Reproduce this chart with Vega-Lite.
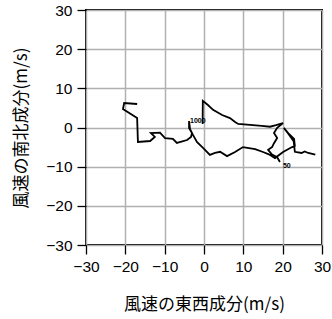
{
  "$schema": "https://vega.github.io/schema/vega-lite/v6.json",
  "width": 236,
  "height": 235,
  "autosize": {"type": "none"},
  "padding": {"left": 86, "top": 10, "right": 10, "bottom": 74},
  "background": "white",
  "config": {
    "view": {"stroke": "black", "strokeWidth": 2},
    "font": "Liberation Sans",
    "text": {"fill": "black", "color": "black"}
  },
  "datasets": {
    "path": [
      {"s": "A", "i": 1, "u": -0.35, "v": 0.9},
      {"s": "A", "i": 2, "u": -0.3, "v": 6.8},
      {"s": "A", "i": 3, "u": 1.0, "v": 5.75},
      {"s": "A", "i": 4, "u": 2.3, "v": 4.5},
      {"s": "A", "i": 5, "u": 4.6, "v": 3.2},
      {"s": "A", "i": 6, "u": 6.6, "v": 2.4},
      {"s": "A", "i": 7, "u": 7.9, "v": 1.4},
      {"s": "A", "i": 8, "u": 8.7, "v": 0.9},
      {"s": "A", "i": 9, "u": 11.7, "v": 0.65},
      {"s": "A", "i": 10, "u": 14.7, "v": 0.4},
      {"s": "A", "i": 11, "u": 16.8, "v": 0.2},
      {"s": "A", "i": 12, "u": 18.3, "v": 0.6},
      {"s": "A", "i": 13, "u": 20.1, "v": 1.15},
      {"s": "A", "i": 14, "u": 18.6, "v": -0.1},
      {"s": "A", "i": 15, "u": 17.8, "v": -1.4},
      {"s": "A", "i": 16, "u": 18.6, "v": -2.7},
      {"s": "A", "i": 17, "u": 17.8, "v": -4.0},
      {"s": "A", "i": 18, "u": 17.3, "v": -5.0},
      {"s": "A", "i": 19, "u": 16.3, "v": -5.7},
      {"s": "A", "i": 20, "u": 17.3, "v": -6.9},
      {"s": "A", "i": 21, "u": 18.6, "v": -7.6},
      {"s": "A", "i": 22, "u": 19.3, "v": -8.8},
      {"s": "B", "i": 1, "u": -17.0, "v": 6.0},
      {"s": "B", "i": 2, "u": -20.3, "v": 6.25},
      {"s": "B", "i": 3, "u": -20.6, "v": 4.7},
      {"s": "B", "i": 4, "u": -17.0, "v": 2.4},
      {"s": "B", "i": 5, "u": -16.8, "v": -3.7},
      {"s": "B", "i": 6, "u": -13.7, "v": -3.45},
      {"s": "B", "i": 7, "u": -12.5, "v": -2.4},
      {"s": "B", "i": 8, "u": -13.5, "v": -1.4},
      {"s": "B", "i": 9, "u": -11.2, "v": -1.3},
      {"s": "B", "i": 10, "u": -9.9, "v": -2.7},
      {"s": "B", "i": 11, "u": -7.9, "v": -2.9},
      {"s": "B", "i": 12, "u": -6.9, "v": -3.95},
      {"s": "B", "i": 13, "u": -4.3, "v": -3.2},
      {"s": "B", "i": 14, "u": -3.3, "v": -2.4},
      {"s": "B", "i": 15, "u": -3.05, "v": -1.4},
      {"s": "B", "i": 16, "u": -3.8, "v": -0.1},
      {"s": "B", "i": 17, "u": -3.8, "v": 1.65},
      {"s": "B", "i": 18, "u": -3.55, "v": -0.4},
      {"s": "B", "i": 19, "u": -2.8, "v": -1.9},
      {"s": "B", "i": 20, "u": -1.8, "v": -3.7},
      {"s": "B", "i": 21, "u": -0.25, "v": -5.2},
      {"s": "B", "i": 22, "u": 1.5, "v": -7.0},
      {"s": "B", "i": 23, "u": 2.8, "v": -6.5},
      {"s": "B", "i": 24, "u": 4.1, "v": -6.2},
      {"s": "B", "i": 25, "u": 5.85, "v": -7.3},
      {"s": "B", "i": 26, "u": 7.9, "v": -6.25},
      {"s": "B", "i": 27, "u": 9.9, "v": -5.0},
      {"s": "B", "i": 28, "u": 13.0, "v": -5.5},
      {"s": "B", "i": 29, "u": 15.0, "v": -6.25},
      {"s": "B", "i": 30, "u": 16.8, "v": -7.0},
      {"s": "B", "i": 31, "u": 18.05, "v": -7.8},
      {"s": "B", "i": 32, "u": 20.1, "v": -6.25},
      {"s": "B", "i": 33, "u": 22.4, "v": -5.0},
      {"s": "B", "i": 34, "u": 23.1, "v": -4.7},
      {"s": "B", "i": 35, "u": 22.9, "v": -2.9},
      {"s": "B", "i": 36, "u": 21.6, "v": -1.65},
      {"s": "B", "i": 37, "u": 20.3, "v": -0.1},
      {"s": "B", "i": 38, "u": 21.3, "v": -1.4},
      {"s": "B", "i": 39, "u": 22.8, "v": -3.5},
      {"s": "B", "i": 40, "u": 23.1, "v": -6.2},
      {"s": "B", "i": 41, "u": 24.8, "v": -6.5},
      {"s": "B", "i": 42, "u": 25.6, "v": -6.1},
      {"s": "B", "i": 43, "u": 26.5, "v": -6.5},
      {"s": "B", "i": 44, "u": 28.3, "v": -6.9}
    ],
    "labels": [
      {"u": -0.35, "v": 0.9, "label": "1000", "side": "right"},
      {"u": 19.3, "v": -8.8, "label": "50", "side": "left"}
    ]
  },
  "encoding": {
    "x": {
      "field": "u", "type": "quantitative",
      "scale": {"domain": [-30, 30], "nice": false, "zero": false},
      "axis": {
        "values": [-30, -20, -10, 0, 10, 20, 30],
        "title": "風速の東西成分(m/s)",
        "titleFont": "Noto Sans CJK JP", "titleFontSize": 17, "titleFontWeight": "normal",
        "titleColor": "black", "titlePadding": 22,
        "labelFont": "Liberation Sans", "labelFontSize": 15.5, "labelColor": "black", "labelPadding": 5,
        "labelOverlap": false, "labelBound": false, "labelFlush": false,
        "tickColor": "black", "tickSize": 9, "tickWidth": 1.3,
        "domain": false,
        "grid": true, "gridColor": "#b0b0b0", "gridWidth": 1.5
      }
    },
    "y": {
      "field": "v", "type": "quantitative",
      "scale": {"domain": [-30, 30], "nice": false, "zero": false},
      "axis": {
        "values": [-30, -20, -10, 0, 10, 20, 30],
        "title": "風速の南北成分(m/s)",
        "titleFont": "Noto Sans CJK JP", "titleFontSize": 17, "titleFontWeight": "normal",
        "titleColor": "black", "titlePadding": 15,
        "labelFont": "Liberation Sans", "labelFontSize": 15.5, "labelColor": "black", "labelPadding": 5,
        "labelOverlap": false, "labelBound": false, "labelFlush": false,
        "tickColor": "black", "tickSize": 9, "tickWidth": 1.3,
        "domain": false,
        "grid": true, "gridColor": "#b0b0b0", "gridWidth": 1.5
      }
    }
  },
  "layer": [
    {
      "data": {"name": "path"},
      "mark": {"type": "line", "color": "black", "strokeWidth": 1.8, "strokeJoin": "miter"},
      "encoding": {
        "detail": {"field": "s", "type": "nominal"},
        "order": {"field": "i", "type": "quantitative"}
      }
    },
    {
      "data": {"name": "labels"},
      "transform": [{"filter": "datum.side == 'right'"}],
      "mark": {"type": "text", "fontSize": 7, "fontWeight": "bold", "align": "right", "baseline": "middle", "dx": 3, "dy": -3, "fill": "black"},
      "encoding": {"text": {"field": "label"}}
    },
    {
      "data": {"name": "labels"},
      "transform": [{"filter": "datum.side == 'left'"}],
      "mark": {"type": "text", "fontSize": 7, "fontWeight": "bold", "align": "left", "baseline": "middle", "dx": 3, "dy": 4, "fill": "black"},
      "encoding": {"text": {"field": "label"}}
    }
  ]
}
